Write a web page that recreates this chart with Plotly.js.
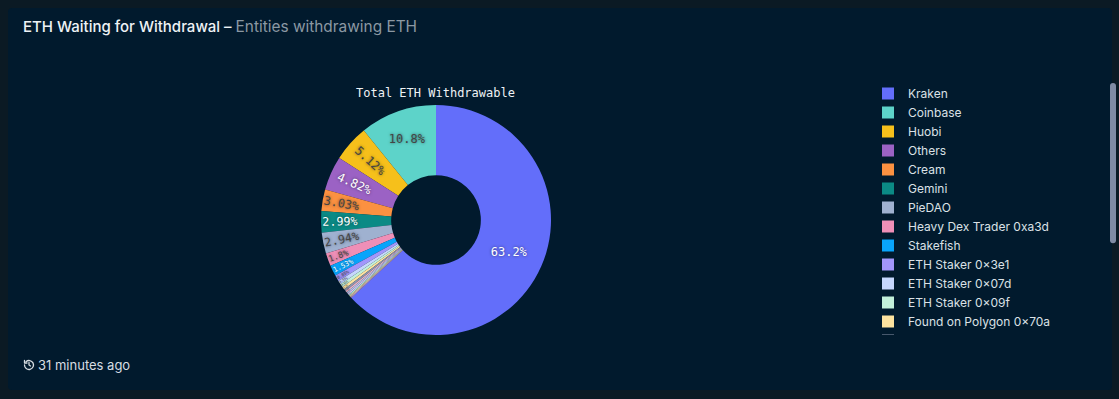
<!DOCTYPE html>
<html>
<head>
<meta charset="utf-8">
<script src="https://cdn.plot.ly/plotly-3.0.1.min.js"></script>
<style>
  html, body { margin:0; padding:0; width:1119px; height:399px; background:#0b1a24; overflow:hidden; font-family: Inter, "Noto Sans", sans-serif; }
  #card { position:absolute; left:8px; top:8px; width:1104px; height:382px; background:#011a2d; border-radius:4px; }
  #hdr { position:absolute; left:23px; top:17px; font-size:15px; color:#eef2f5; font-weight:500; white-space:nowrap; }
  #hdr .sub { color:#8b98a3; font-weight:400; font-size:15.4px; }
  #ftr { position:absolute; left:23px; top:357px; font-size:13px; color:#d7dde2; white-space:nowrap; display:flex; align-items:center; gap:3px; }
  #plot { position:absolute; left:0; top:0; width:1119px; height:399px; }
</style>
</head>
<body>
<div id="card"></div>
<div id="plot"></div>
<div id="hdr">ETH Waiting for Withdrawal – <span class="sub">Entities withdrawing ETH</span></div>
<div id="ftr"><svg width="12" height="12" viewBox="0 0 24 24" fill="none" stroke="#d7dde2" stroke-width="2.6" stroke-linecap="round" stroke-linejoin="round"><path d="M3 12a9 9 0 1 0 3-6.7"/><path d="M3 3v5h5"/><path d="M12 7v5l3 2"/></svg><span>31 minutes ago</span></div>
<script>
const labels = [
  "Kraken", "Coinbase", "Huobi", "Others", "Cream", "Gemini", "PieDAO",
  "Heavy Dex Trader 0xa3d", "Stakefish", "ETH Staker 0×3e1", "ETH Staker 0×07d",
  "ETH Staker 0×09f", "Found on Polygon 0×70a", "ETH Staker 0×4c2", "ETH Staker 0×b18",
  "Heavy Dex Trader 0×5f7 (Curve.fi)", "ETH Staker 0×e90", "ETH Staker 0×2ad", "ETH Staker 0×c41",
  "Found on Polygon 0×1b8", "ETH Staker 0×6f3"
];
const values = [
  63.2, 10.8, 5.12, 4.82, 3.03, 2.99, 2.94,
  1.8, 1.53, 0.85, 0.55,
  0.45, 0.4, 0.3, 0.25,
  0.22, 0.2, 0.18, 0.15,
  0.12, 0.1
];
const colors = [
  "#636efa", "#5dd3c9", "#f6c01b", "#9b62c4", "#fb9141", "#0b8a85", "#9fb1d0",
  "#ef8fb7", "#09a4fb", "#a296fb", "#c6d7fd", "#c3f0da", "#fde39f", "#8e96ad",
  "#f0b3c8", "#b7c5e8", "#d8c4f3", "#a9e6e0", "#f7d08a", "#c9ccd6", "#e9a7b9"
];

const W = 1119, H = 399;
const cx = 436, cy = 220, r = 115;

const trace = {
  type: "pie",
  labels: labels,
  values: values,
  sort: false,
  direction: "counterclockwise",
  rotation: 0,
  hole: 0.39,
  marker: { colors: colors, line: { width: 0 } },
  textinfo: "percent",
  textposition: "inside",
  insidetextorientation: "auto",
  textfont: { family: "DejaVu Sans Mono, monospace", size: 12, shadow: "0px 0px 3px rgba(0,0,0,0.55)" },
  domain: { x: [(cx - r) / W, (cx + r) / W], y: [(H - cy - r) / H, (H - cy + r) / H] },
  hoverinfo: "label+percent"
};

const layout = {
  width: W, height: H,
  margin: { l: 0, r: 0, t: 0, b: 0 },
  paper_bgcolor: "rgba(0,0,0,0)",
  plot_bgcolor: "rgba(0,0,0,0)",
  showlegend: true,
  legend: {
    x: 868 / W, xanchor: "left",
    y: (H - 79) / H, yanchor: "top",
    maxheight: 256,
    bgcolor: "rgba(0,0,0,0)",
    font: { family: "Inter, Noto Sans, sans-serif", size: 12, color: "#dbe1e6" },
    tracegroupgap: 0
  },
  annotations: [{
    text: "Total ETH Withdrawable",
    x: 435 / W, y: (H - 93) / H, xref: "paper", yref: "paper",
    xanchor: "center", yanchor: "middle", showarrow: false,
    font: { family: "DejaVu Sans Mono, monospace", size: 12, color: "#eef2f5" }
  }]
};

Plotly.newPlot("plot", [trace], layout, { displayModeBar: false });
</script>
</body>
</html>
